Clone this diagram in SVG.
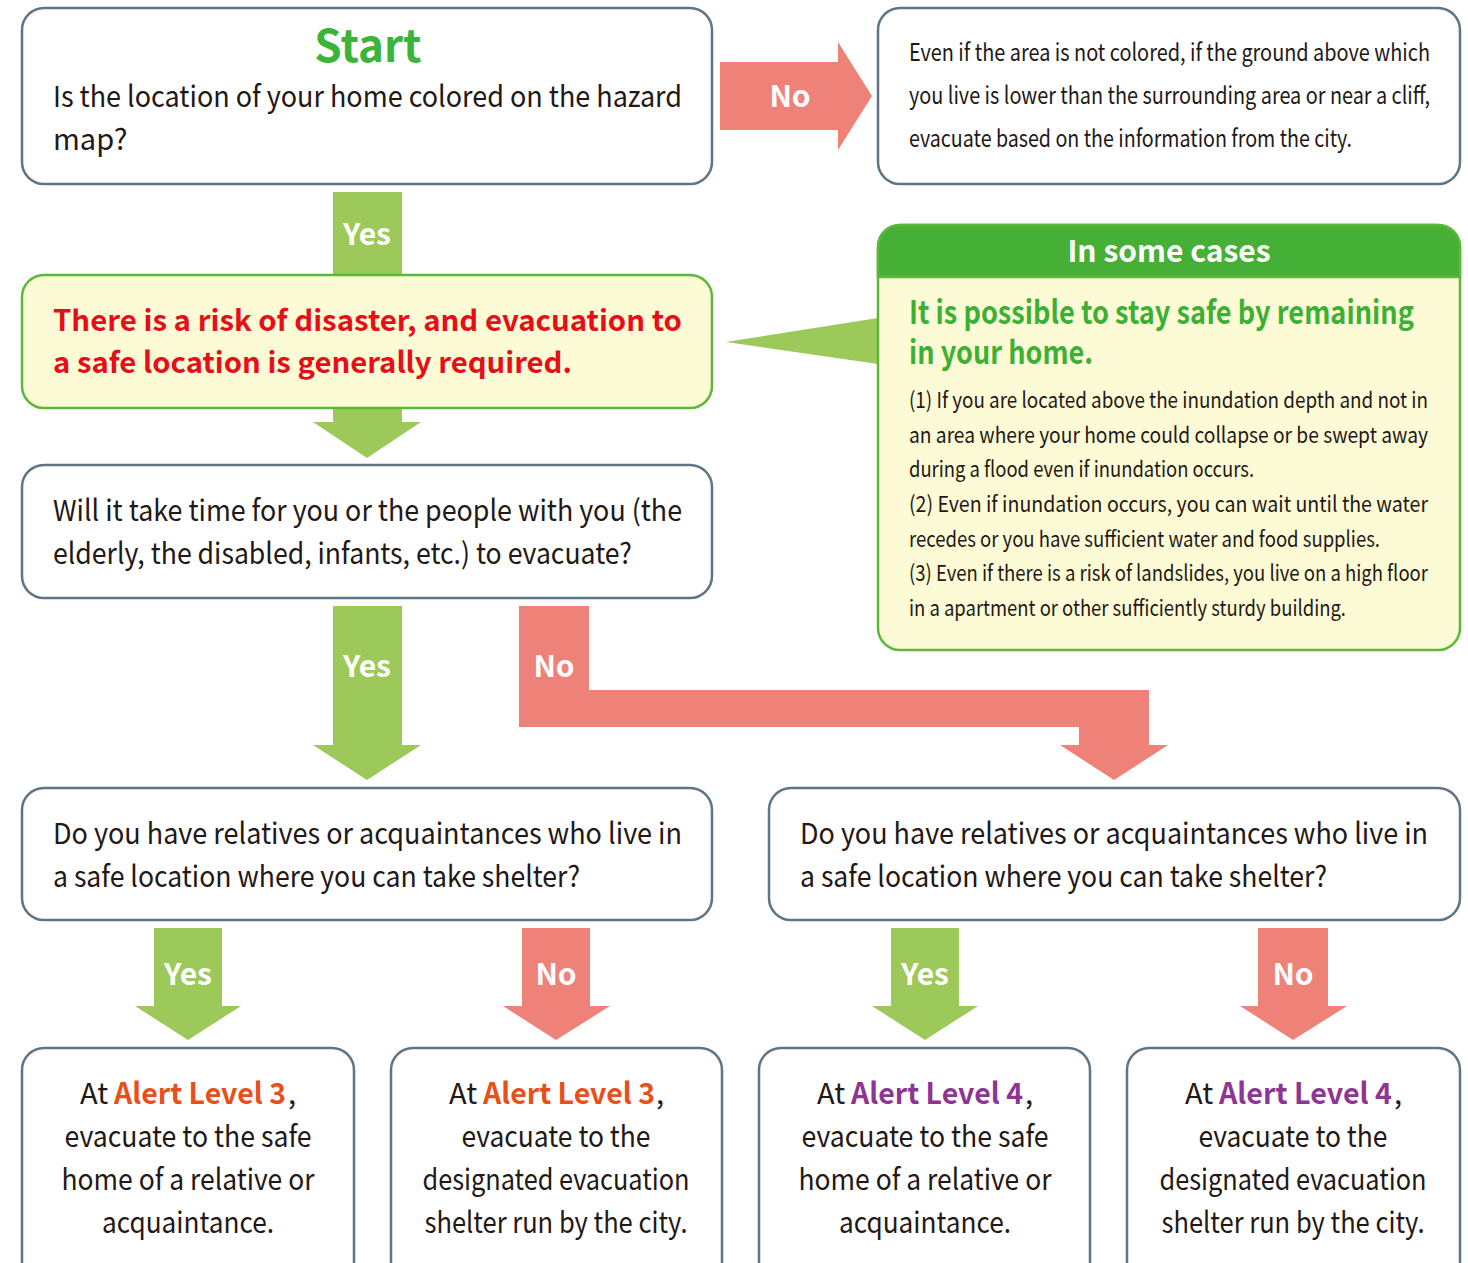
<svg xmlns="http://www.w3.org/2000/svg" width="1468" height="1263" viewBox="0 0 1468 1263">
<style>
.box{fill:#fff;stroke:#5d7585;stroke-width:2.5}
.ybox{fill:#fdfbd6;stroke:#5cb83a;stroke-width:2.5}
.t{font-family:"Noto Sans CJK JP","Noto Sans",sans-serif;font-size:29px;fill:#231815}
.s{font-family:"Noto Sans CJK JP","Noto Sans",sans-serif;font-size:24px;fill:#231815}
.b{font-family:"Noto Sans CJK JP","Noto Sans",sans-serif;font-size:22px;fill:#231815}
.lbl{font-family:"Noto Sans CJK JP","Noto Sans",sans-serif;font-size:30px;font-weight:bold;fill:#fff;text-anchor:middle}
.c{text-anchor:middle}
.g{fill:#9cc95a}
.r{fill:#ee8279}
.l3{fill:#e8501a;font-weight:bold}
.l4{fill:#8e3593;font-weight:bold}
</style>
<g id="connectors">
  <polygon class="r" points="720,62 838,62 838,42 872,96 838,150 838,130 720,130"/>
  <text class="lbl" x="790" y="107">No</text>
  <rect class="g" x="333" y="192" width="69" height="83"/>
  <text class="lbl" x="367" y="245">Yes</text>
  <polygon class="g" points="333,408 402,408 402,422 421,422 367,458 313,422 333,422"/>
  <polygon class="g" points="726,342 878,318 878,364"/>
  <polygon class="g" points="333,606 402,606 402,745 421,745 367,780 313,745 333,745"/>
  <text class="lbl" x="367" y="677">Yes</text>
  <polygon class="r" points="519,606 589,606 589,690 1149,690 1149,745 1168,745 1114,780 1060,745 1079,745 1079,727 519,727"/>
  <text class="lbl" x="554" y="677">No</text>
  <polygon class="g" points="154,928 222,928 222,1006 241,1006 188,1040 135,1006 154,1006"/>
  <text class="lbl" x="188" y="985">Yes</text>
  <polygon class="r" points="522,928 590,928 590,1006 610,1006 556,1040 503,1006 522,1006"/>
  <text class="lbl" x="556" y="985">No</text>
  <polygon class="g" points="891,928 959,928 959,1006 978,1006 925,1040 872,1006 891,1006"/>
  <text class="lbl" x="925" y="985">Yes</text>
  <polygon class="r" points="1258,928 1328,928 1328,1006 1347,1006 1293,1040 1240,1006 1258,1006"/>
  <text class="lbl" x="1293" y="985">No</text>
</g>
<g id="start">
  <rect class="box" x="22" y="8" width="690" height="176" rx="22"/>
  <text class="t c" x="368" y="62" style="font-size:44px;font-weight:bold;fill:#3db33a">Start</text>
  <text class="t" x="53" y="107" textLength="629" lengthAdjust="spacingAndGlyphs">Is the location of your home colored on the hazard</text>
  <text class="t" x="53" y="150">map?</text>
</g>
<g id="not-colored">
  <rect class="box" x="878" y="8" width="582" height="176" rx="22"/>
  <text class="s" x="909" y="61" textLength="521" lengthAdjust="spacingAndGlyphs">Even if the area is not colored, if the ground above which</text>
  <text class="s" x="909" y="104" textLength="521" lengthAdjust="spacingAndGlyphs">you live is lower than the surrounding area or near a cliff,</text>
  <text class="s" x="909" y="147" textLength="443" lengthAdjust="spacingAndGlyphs">evacuate based on the information from the city.</text>
</g>
<g id="risk">
  <rect class="ybox" x="22" y="275" width="690" height="133" rx="22"/>
  <text class="t" x="53" y="331" textLength="629" lengthAdjust="spacingAndGlyphs" style="fill:#e60f19;font-weight:bold">There is a risk of disaster, and evacuation to</text>
  <text class="t" x="53" y="373" textLength="519" lengthAdjust="spacingAndGlyphs" style="fill:#e60f19;font-weight:bold">a safe location is generally required.</text>
</g>
<g id="some-cases">
  <rect class="ybox" x="878" y="225" width="582" height="425" rx="22"/>
  <path d="M878,277 V247 A22,22 0 0 1 900,225 H1438 A22,22 0 0 1 1460,247 V277 Z" fill="#45b035" stroke="#5cb83a" stroke-width="2.5"/>
  <text class="lbl" x="1169" y="262">In some cases</text>
  <text class="t" x="909" y="324" textLength="505" lengthAdjust="spacingAndGlyphs" style="font-size:32px;font-weight:bold;fill:#3cb034">It is possible to stay safe by remaining</text>
  <text class="t" x="909" y="364" textLength="184" lengthAdjust="spacingAndGlyphs" style="font-size:32px;font-weight:bold;fill:#3cb034">in your home.</text>
  <text class="b" x="909" y="408" textLength="519" lengthAdjust="spacingAndGlyphs">(1) If you are located above the inundation depth and not in</text>
  <text class="b" x="909" y="443" textLength="519" lengthAdjust="spacingAndGlyphs">an area where your home could collapse or be swept away</text>
  <text class="b" x="909" y="477" textLength="345" lengthAdjust="spacingAndGlyphs">during a flood even if inundation occurs.</text>
  <text class="b" x="909" y="512" textLength="519" lengthAdjust="spacingAndGlyphs">(2) Even if inundation occurs, you can wait until the water</text>
  <text class="b" x="909" y="547" textLength="471" lengthAdjust="spacingAndGlyphs">recedes or you have sufficient water and food supplies.</text>
  <text class="b" x="909" y="581" textLength="519" lengthAdjust="spacingAndGlyphs">(3) Even if there is a risk of landslides, you live on a high floor</text>
  <text class="b" x="909" y="616" textLength="437" lengthAdjust="spacingAndGlyphs">in a apartment or other sufficiently sturdy building.</text>
</g>
<g id="take-time">
  <rect class="box" x="22" y="465" width="690" height="133" rx="22"/>
  <text class="t" x="53" y="521" textLength="629" lengthAdjust="spacingAndGlyphs">Will it take time for you or the people with you (the</text>
  <text class="t" x="53" y="564" textLength="579" lengthAdjust="spacingAndGlyphs">elderly, the disabled, infants, etc.) to evacuate?</text>
</g>
<g id="relatives-left">
  <rect class="box" x="22" y="788" width="690" height="132" rx="22"/>
  <text class="t" x="53" y="844" textLength="629" lengthAdjust="spacingAndGlyphs">Do you have relatives or acquaintances who live in</text>
  <text class="t" x="53" y="887" textLength="527" lengthAdjust="spacingAndGlyphs">a safe location where you can take shelter?</text>
</g>
<g id="relatives-right">
  <rect class="box" x="769" y="788" width="691" height="132" rx="22"/>
  <text class="t" x="800" y="844" textLength="628" lengthAdjust="spacingAndGlyphs">Do you have relatives or acquaintances who live in</text>
  <text class="t" x="800" y="887" textLength="527" lengthAdjust="spacingAndGlyphs">a safe location where you can take shelter?</text>
</g>
<g id="result-1">
  <rect class="box" x="22" y="1048" width="332" height="240" rx="22"/>
  <text class="t" x="80" y="1104">At</text>
  <text class="t l3" x="114" y="1104" textLength="172" lengthAdjust="spacingAndGlyphs">Alert Level 3</text>
  <text class="t" x="288" y="1104">,</text>
  <text class="t c" x="188" y="1147" textLength="247" lengthAdjust="spacingAndGlyphs">evacuate to the safe</text>
  <text class="t c" x="188" y="1190" textLength="253" lengthAdjust="spacingAndGlyphs">home of a relative or</text>
  <text class="t c" x="188" y="1233" textLength="172" lengthAdjust="spacingAndGlyphs">acquaintance.</text>
</g>
<g id="result-2">
  <rect class="box" x="391" y="1048" width="331" height="240" rx="22"/>
  <text class="t" x="449" y="1104">At</text>
  <text class="t l3" x="483" y="1104" textLength="172" lengthAdjust="spacingAndGlyphs">Alert Level 3</text>
  <text class="t" x="656" y="1104">,</text>
  <text class="t c" x="556" y="1147" textLength="189" lengthAdjust="spacingAndGlyphs">evacuate to the</text>
  <text class="t c" x="556" y="1190" textLength="267" lengthAdjust="spacingAndGlyphs">designated evacuation</text>
  <text class="t c" x="556" y="1233" textLength="263" lengthAdjust="spacingAndGlyphs">shelter run by the city.</text>
</g>
<g id="result-3">
  <rect class="box" x="759" y="1048" width="331" height="240" rx="22"/>
  <text class="t" x="817" y="1104">At</text>
  <text class="t l4" x="851" y="1104" textLength="172" lengthAdjust="spacingAndGlyphs">Alert Level 4</text>
  <text class="t" x="1025" y="1104">,</text>
  <text class="t c" x="925" y="1147" textLength="247" lengthAdjust="spacingAndGlyphs">evacuate to the safe</text>
  <text class="t c" x="925" y="1190" textLength="253" lengthAdjust="spacingAndGlyphs">home of a relative or</text>
  <text class="t c" x="925" y="1233" textLength="172" lengthAdjust="spacingAndGlyphs">acquaintance.</text>
</g>
<g id="result-4">
  <rect class="box" x="1127" y="1048" width="333" height="240" rx="22"/>
  <text class="t" x="1185" y="1104">At</text>
  <text class="t l4" x="1219" y="1104" textLength="173" lengthAdjust="spacingAndGlyphs">Alert Level 4</text>
  <text class="t" x="1394" y="1104">,</text>
  <text class="t c" x="1293" y="1147" textLength="189" lengthAdjust="spacingAndGlyphs">evacuate to the</text>
  <text class="t c" x="1293" y="1190" textLength="267" lengthAdjust="spacingAndGlyphs">designated evacuation</text>
  <text class="t c" x="1293" y="1233" textLength="263" lengthAdjust="spacingAndGlyphs">shelter run by the city.</text>
</g>
</svg>
